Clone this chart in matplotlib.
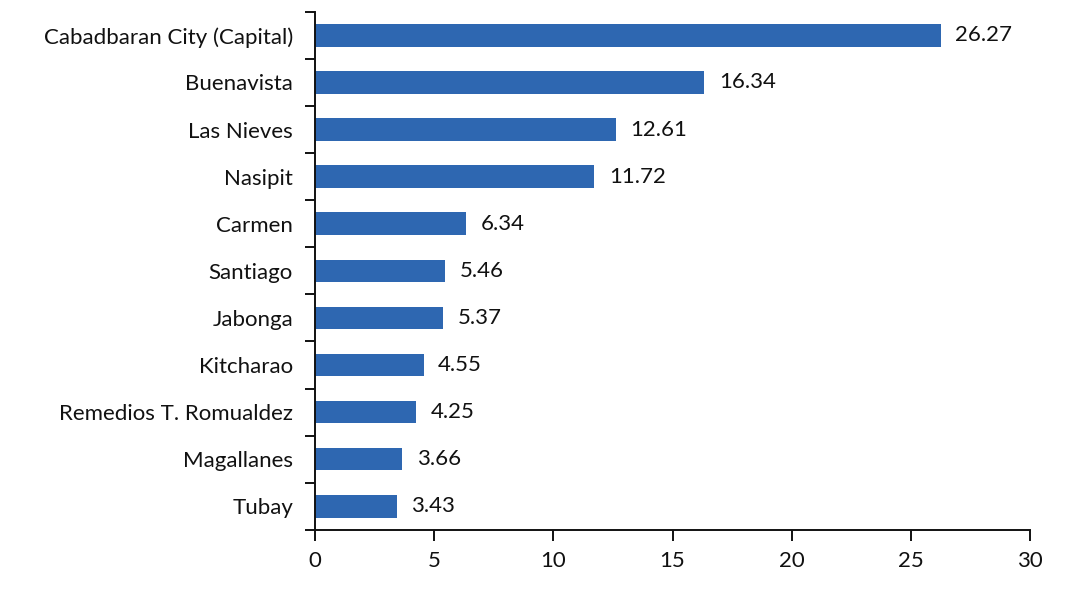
import numpy as np
from matplotlib import pyplot as plt
from matplotlib.ticker import FixedLocator

# Municipalities, top to bottom as shown
towns = ["Cabadbaran City (Capital)", "Buenavista", "Las Nieves", "Nasipit",
         "Carmen", "Santiago", "Jabonga", "Kitcharao",
         "Remedios T. Romualdez", "Magallanes", "Tubay"]
values = [26.27, 16.34, 12.61, 11.72, 6.34, 5.46, 5.37, 4.55, 4.25, 3.66, 3.43]

plt.rcParams['font.family'] = ['Lato', 'DejaVu Sans']
fs = 16

fig = plt.figure(figsize=(10.65, 5.9), dpi=100)
ax = fig.add_axes([0.296, 0.102, 0.671, 0.878])

pos = np.arange(len(towns))[::-1]
ax.barh(pos, values, height=0.48, color="#2e67b1")

for y, v in zip(pos, values):
    ax.text(v + 0.6, y, "%.2f" % v, va="center", ha="left", fontsize=fs, color="#111111")

ax.set_ylim(-0.5, len(towns) - 0.5)
ax.set_xlim(0, 30)
ax.set_xticks(range(0, 31, 5))
ax.set_yticks(pos)
ax.set_yticklabels(towns, fontsize=fs, color="#111111")
ax.tick_params(axis="y", length=0, pad=16)
ax.yaxis.set_minor_locator(FixedLocator(np.arange(-0.5, len(towns), 1.0)))
ax.tick_params(axis="y", which="minor", length=7, width=1.4, color="#111111")
ax.tick_params(axis="x", length=8, width=1.4, labelsize=fs, pad=7, color="#111111", labelcolor="#111111")

for side in ("top", "right"):
    ax.spines[side].set_visible(False)
for side in ("left", "bottom"):
    ax.spines[side].set_linewidth(1.4)
    ax.spines[side].set_color("#111111")

plt.savefig("out.png", dpi=100)
